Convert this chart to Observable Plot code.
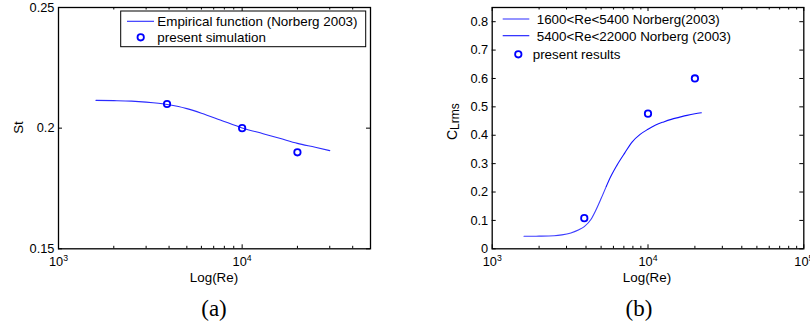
<!DOCTYPE html>
<html><head><meta charset="utf-8">
<script src="https://cdn.jsdelivr.net/npm/d3@7"></script>
<script src="https://cdn.jsdelivr.net/npm/@observablehq/plot@0.6"></script>
<style>
html,body{margin:0;padding:0;background:#fff;}
#wrap{position:relative;width:810px;height:327px;overflow:hidden;background:#fff;}
#wrap svg{position:absolute;top:0;}
</style></head><body><div id="wrap"></div>
<script>
// ---------- data ----------
// (a) Strouhal number
const stRe  = [1600, 2000, 2500, 3000, 3500, 3900, 4500, 5000, 6000, 7600, 10000, 13000, 16000, 20000, 25000, 30000];
const stEmp = [0.2115, 0.2114, 0.2112, 0.2108, 0.2103, 0.2098, 0.2090, 0.2081, 0.2062, 0.2034, 0.2001, 0.1977, 0.1958, 0.1937, 0.1921, 0.1907];
const simRe = [3900, 10000, 20000];
const simSt = [0.210, 0.200, 0.190];
// (b) rms lift coefficient
const cl1Re = [1600, 2000, 2500, 2800, 3200, 3600, 3900, 4300, 4600, 5000, 5400];
const cl1   = [0.044, 0.0445, 0.046, 0.049, 0.056, 0.067, 0.078, 0.103, 0.133, 0.177, 0.220];
const cl2Re = [5400, 5600, 6300, 7100, 7900, 8900, 10000, 11200, 12600, 14100, 15800, 17800, 20000, 22000];
const cl2   = [0.220, 0.240, 0.293, 0.338, 0.376, 0.403, 0.421, 0.436, 0.447, 0.456, 0.463, 0.470, 0.4755, 0.479];
const simCl = [0.108, 0.476, 0.600];
// ticks
const stTicks = [0.15, 0.2, 0.25];
const clTicks = [0, 0.1, 0.2, 0.3, 0.4, 0.5, 0.6, 0.7, 0.8];
const majorsA = [1e3, 1e4];
const minorsA = [2e3, 3e3, 4e3, 5e3, 6e3, 7e3, 8e3, 9e3, 2e4, 3e4, 4e4];
const majorsB = [1e3, 1e4, 1e5];
const minorsB = [2e3, 3e3, 4e3, 5e3, 6e3, 7e3, 8e3, 9e3, 2e4, 3e4, 4e4, 5e4, 6e4, 7e4, 8e4, 9e4];
// labels
const legendA = ["Empirical function (Norberg 2003)", "present simulation"];
const legendB = ["1600<Re<5400 Norberg(2003)", "5400<Re<22000 Norberg (2003)", "present results"];

const FONT = '"Liberation Sans", Arial, Helvetica, sans-serif';
const SERIF = '"Liberation Serif", "Times New Roman", serif';
const W = 405, H = 327;
const FS = 13.4;

function makePanel(cfg) {
  const innerW = W - cfg.ml - cfg.mr, innerH = H - cfg.mt - cfg.mb;
  const tk = {stroke: "#000", strokeWidth: 1};
  const chart = Plot.plot({
    width: W, height: H,
    marginLeft: cfg.ml, marginRight: cfg.mr, marginTop: cfg.mt, marginBottom: cfg.mb,
    style: {fontFamily: FONT, fontSize: "12.8px", background: "white", color: "#000"},
    x: {type: "log", domain: cfg.xDomain},
    y: {domain: cfg.yDomain},
    marks: [
      Plot.axisX(cfg.majors, {tickSize: 0, tickPadding: 8, label: null,
        tickFormat: d => String(Math.round(Math.log10(d)))}),
      Plot.axisY(cfg.yTicks, {tickSize: 0, tickPadding: 4, label: null, tickFormat: d => String(d)}),
      Plot.tickX(cfg.majors, {x: d => d, insetTop: innerH - 4, ...tk}),
      Plot.tickX(cfg.majors, {x: d => d, insetBottom: innerH - 4, ...tk}),
      Plot.tickX(cfg.minors, {x: d => d, insetTop: innerH - 2.5, ...tk}),
      Plot.tickX(cfg.minors, {x: d => d, insetBottom: innerH - 2.5, ...tk}),
      Plot.tickY(cfg.yTicks, {y: d => d, insetRight: innerW - 4, ...tk}),
      Plot.tickY(cfg.yTicks, {y: d => d, insetLeft: innerW - 4, ...tk}),
      ...cfg.marks,
      Plot.frame({stroke: "#000", strokeWidth: 1.3})
    ]
  });
  const svg = d3.select(chart);
  svg.selectAll('g[aria-label="x-axis tick label"] text').each(function () {
    const e = this.textContent;
    const t = d3.select(this);
    t.text("10");
    t.append("tspan").attr("dy", "-0.6em").attr("font-size", "0.68em").text(e);
  });
  return chart;
}

function txt(svg, x, y, s, size, extra = {}) {
  return svg.append("text").attr("x", x).attr("y", y).attr("font-family", extra.family || FONT)
    .attr("font-size", size).attr("fill", "#000").attr("text-anchor", extra.anchor || "start").text(s);
}

const wrap = document.getElementById("wrap");

// ----- panel (a)
const ptsA = simRe.map((x, i) => ({x, y: simSt[i]}));
const empA = stRe.map((x, i) => ({x, y: stEmp[i]}));
const a = makePanel({
  ml: 58, mr: 35, mt: 7, mb: H - 248.3,
  xDomain: [1e3, 5e4], yDomain: [0.15, 0.25], yTicks: stTicks,
  majors: majorsA, minors: minorsA,
  marks: [
    Plot.line(empA, {x: "x", y: "y", stroke: "#2b2bff", strokeWidth: 1.1, curve: "monotone-x"}),
    Plot.dot(ptsA, {x: "x", y: "y", r: 3.2, stroke: "#0000ff", strokeWidth: 1.8, fill: "none"})
  ]
});
a.style.left = "0px";
wrap.appendChild(a);
{
  const s = d3.select(a);
  s.append("rect").attr("x", 120.7).attr("y", 11).attr("width", 245).attr("height", 35.7)
    .attr("fill", "white").attr("stroke", "#000").attr("stroke-width", 1);
  s.append("line").attr("x1", 127).attr("x2", 154).attr("y1", 21.3).attr("y2", 21.3)
    .attr("stroke", "#2b2bff").attr("stroke-width", 1.1);
  txt(s, 157.3, 26, legendA[0], FS);
  s.append("circle").attr("cx", 140.7).attr("cy", 37.3).attr("r", 3.2)
    .attr("fill", "none").attr("stroke", "#0000ff").attr("stroke-width", 1.8);
  txt(s, 157.3, 41.8, legendA[1], FS);
  txt(s, 214, 282, "Log(Re)", FS, {anchor: "middle"});
  txt(s, 0, 0, "St", FS, {anchor: "middle"}).attr("transform", "translate(23,127.5) rotate(-90)");
  txt(s, 214, 316, "(a)", 23, {anchor: "middle", family: SERIF});
}

// ----- panel (b)
const ptsB = simRe.map((x, i) => ({x, y: simCl[i]}));
const l1 = cl1Re.map((x, i) => ({x, y: cl1[i]}));
const l2 = cl2Re.map((x, i) => ({x, y: cl2[i]}));
const b = makePanel({
  ml: 86.7, mr: 6.7, mt: 7, mb: H - 248.3,
  xDomain: [1e3, 1e5], yDomain: [0, 0.85], yTicks: clTicks,
  majors: majorsB, minors: minorsB,
  marks: [
    Plot.line(l1, {x: "x", y: "y", stroke: "#3c3cff", strokeWidth: 1.1, curve: "monotone-x"}),
    Plot.line(l2, {x: "x", y: "y", stroke: "#1414ff", strokeWidth: 1.1, curve: "monotone-x"}),
    Plot.dot(ptsB, {x: "x", y: "y", r: 3.2, stroke: "#0000ff", strokeWidth: 1.8, fill: "none"})
  ]
});
b.style.left = "405px";
wrap.appendChild(b);
{
  const s = d3.select(b);
  s.append("line").attr("x1", 97.7).attr("x2", 124.3).attr("y1", 19).attr("y2", 19)
    .attr("stroke", "#3c3cff").attr("stroke-width", 1.1);
  txt(s, 131.7, 24.2, legendB[0], FS);
  s.append("line").attr("x1", 97.7).attr("x2", 124.3).attr("y1", 35.7).attr("y2", 35.7)
    .attr("stroke", "#1414ff").attr("stroke-width", 1.1);
  txt(s, 131.7, 40.9, legendB[1], FS);
  s.append("circle").attr("cx", 113.3).attr("cy", 54.3).attr("r", 3.2)
    .attr("fill", "none").attr("stroke", "#0000ff").attr("stroke-width", 1.8);
  txt(s, 127.7, 58.5, legendB[2], FS);
  txt(s, 242, 282, "Log(Re)", FS, {anchor: "middle"});
  const yl = s.append("text").attr("font-family", FONT).attr("fill", "#000").attr("text-anchor", "middle")
    .attr("transform", "translate(51.7,121.7) rotate(-90)");
  yl.append("tspan").attr("font-size", 14).text("C");
  yl.append("tspan").attr("font-size", 12).attr("dy", 2.5).text("Lrms");
  txt(s, 234, 316, "(b)", 23, {anchor: "middle", family: SERIF});
}
</script></body></html>
